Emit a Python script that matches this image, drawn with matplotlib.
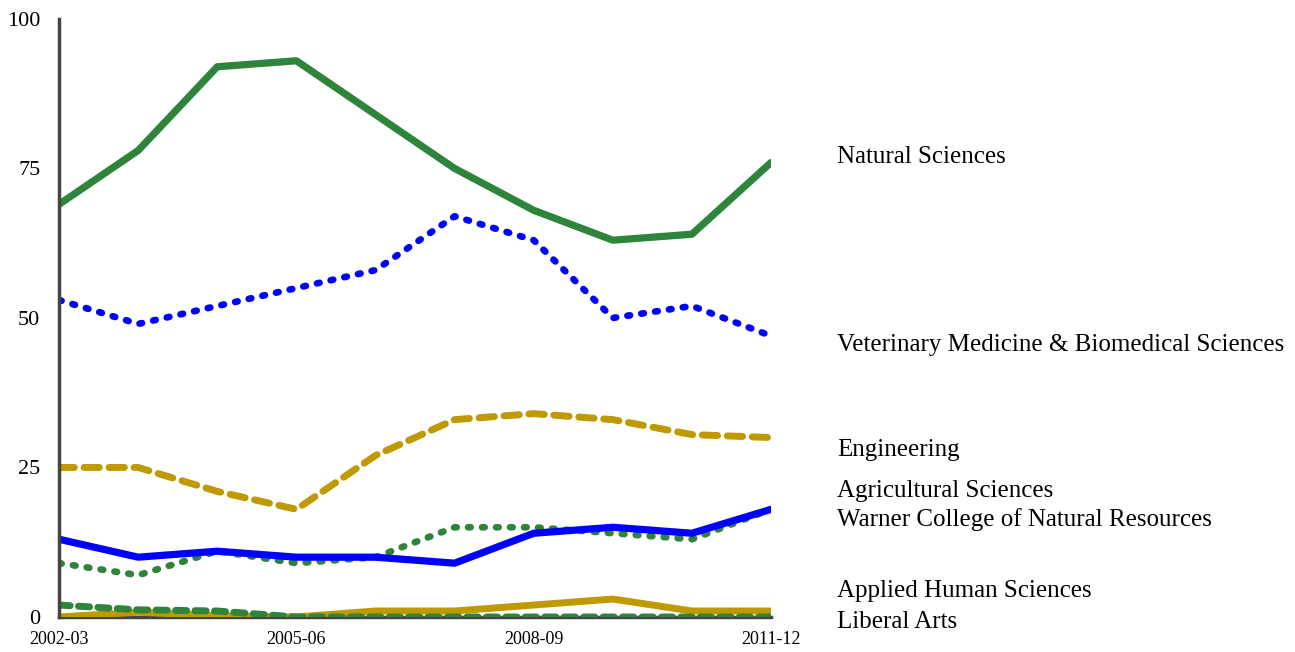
import matplotlib
matplotlib.use('Agg')
import matplotlib.pyplot as plt
import matplotlib.transforms as mtransforms

years = ['2002-03', '2003-04', '2004-05', '2005-06', '2006-07',
         '2007-08', '2008-09', '2009-10', '2010-11', '2011-12']
tick_years = ['2002-03', '2005-06', '2008-09', '2011-12']

natural_sci = [69, 78, 92, 93, 84, 75, 68, 63, 64, 76]
vet_med = [53, 49, 52, 55, 58, 67, 63, 50, 52, 47]
engineering = [25, 25, 21, 18, 27, 33, 34, 33, 30.5, 30]
agricultural = [9, 7, 11, 9, 10, 15, 15, 14, 13, 18]
warner = [13, 10, 11, 10, 10, 9, 14, 15, 14, 18]
applied_human = [0, 0.8, 0.2, 0, 1, 1, 2, 3, 1, 1]
liberal_arts = [2, 1.2, 1, 0, 0, 0, 0, 0, 0, 0]

green = '#2e843a'
blue = '#0000ff'
gold = '#bf9900'

plt.rcParams['font.family'] = ['Liberation Serif', 'DejaVu Serif']

fig = plt.figure(figsize=(12.95, 6.52), dpi=100)
ax = fig.add_axes([0.0456, 0.0537, 0.5498, 0.9173])

xs = list(range(len(years)))

ax.plot(xs, applied_human, color=gold, lw=5, solid_capstyle='round')
ax.plot(xs, liberal_arts, color=green, lw=5, dashes=(1.6, 1.2), dash_capstyle='round')
ax.plot(xs, agricultural, color=green, lw=4.8, dashes=(0.4, 1.7), dash_capstyle='round')
ax.plot(xs, warner, color=blue, lw=5.2, solid_capstyle='round')
ax.plot(xs, engineering, color=gold, lw=5, dashes=(2.2, 1.4), dash_capstyle='round')
ax.plot(xs, vet_med, color=blue, lw=4.8, dashes=(0.4, 1.7), dash_capstyle='round')
ax.plot(xs, natural_sci, color=green, lw=5.2, solid_capstyle='round')

ax.set_xlim(0, len(years) - 1)
ax.set_ylim(0, 100)
ax.set_yticks([0, 25, 50, 75, 100])
ax.set_xticks([years.index(t) for t in tick_years])
ax.set_xticklabels(tick_years)
ax.tick_params(axis='both', length=0)
ax.tick_params(axis='y', labelsize=16, pad=13.5)
ax.tick_params(axis='x', labelsize=13, pad=10)
for t in ax.get_yticklabels():
    t.set_va('center_baseline')

for s in ['top', 'right']:
    ax.spines[s].set_visible(False)
ax.spines['left'].set_color('#444444')
ax.spines['left'].set_linewidth(2.5)
ax.spines['bottom'].set_color('#444444')
ax.spines['bottom'].set_linewidth(2.5)
ax.spines['bottom'].set_zorder(0)

labels = ['Natural Sciences', 'Veterinary Medicine & Biomedical Sciences',
          'Engineering', 'Agricultural Sciences',
          'Warner College of Natural Resources',
          'Applied Human Sciences', 'Liberal Arts']
label_y = [76.9, 45.5, 28.0, 21.1, 16.3, 4.4, -0.8]

trans = mtransforms.blended_transform_factory(ax.transAxes, ax.transData)
for lab, y in zip(labels, label_y):
    ax.text(1.093, y, lab, transform=trans, fontsize=18, va='center',
            ha='left', clip_on=False)

fig.savefig('out.png', dpi=100)
